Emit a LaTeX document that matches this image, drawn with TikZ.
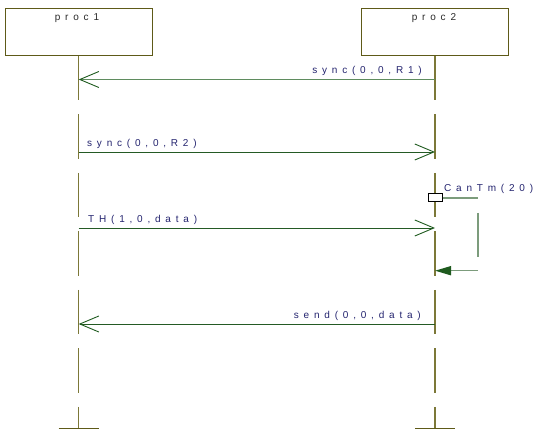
\documentclass[tikz,border=0pt]{standalone}
\usepackage{fontspec}
\setmainfont{Liberation Sans}
\newfontfamily\lblfont[LetterSpace=48]{Liberation Sans}
\usetikzlibrary{arrows.meta}
\definecolor{boxcol}{HTML}{5E5A18}
\definecolor{lifecol}{HTML}{7C7838}
\definecolor{msgdark}{HTML}{245A24}
\definecolor{msglight}{HTML}{5F8C5F}
\definecolor{timercol}{HTML}{7C9C7C}
\definecolor{headcol}{HTML}{1E5A1E}
\definecolor{txtcol}{HTML}{23236E}
\definecolor{proctxt}{HTML}{2A2A2A}
\tikzset{
  procbox/.style={draw=boxcol, line width=0.9pt, fill=white, minimum width=147pt, minimum height=47pt, inner sep=0pt},
  proclabel/.style={font=\lblfont\fontsize{10}{12}\selectfont, text=proctxt, inner sep=0pt, anchor=base},
  lifeline/.style={draw=lifecol, line width=1.3pt, dash pattern=on 44.5pt off 14pt},
  endbar/.style={draw=boxcol, line width=1.1pt},
  msg/.style={draw=msgdark, line width=0.9pt, -{Straight Barb[length=19pt,width=16pt,line width=0.9pt,color=headcol]}},
  msglt/.style={msg, draw=msglight},
  msglabel/.style={font=\lblfont\fontsize{10}{12}\selectfont, text=txtcol, inner sep=0pt},
  timerline/.style={draw=timercol, line width=1.6pt},
  timerbox/.style={draw=black, line width=1pt, fill=white, minimum width=14pt, minimum height=8pt, inner sep=0pt},
}
\begin{document}
\begin{tikzpicture}[x=1pt,y=-1pt]
\useasboundingbox (0,0) rectangle (539,430);
% boxes
\node[procbox] (p1) at (78.7,32) {};
\node[procbox] (p2) at (435,32) {};
\node[proclabel] (p1l) at (77,20.5) {proc1};
\node[proclabel] (p2l) at (434,20.5) {proc2};
% lifeline ends
\coordinate (e1) at (78.7,428.3);
\coordinate (e2) at (435,428.3);
\draw[lifeline] (p1.south) -- (e1);
\draw[lifeline] (p2.south) -- (e2);
\draw[endbar] ([xshift=-20pt]e1) -- ([xshift=20pt]e1);
\draw[endbar] ([xshift=-20pt]e2) -- ([xshift=20pt]e2);
% message coordinates
\coordinate (a1) at (78.7,79.5);  \coordinate (b1) at (435,79.5);
\coordinate (a2) at (78.7,152);   \coordinate (b2) at (435,152);
\coordinate (a3) at (78.7,228);   \coordinate (b3) at (435,228);
\coordinate (a4) at (78.7,324);   \coordinate (b4) at (435,324);
% messages
\draw[msglt] (b1) -- (a1);
\node[msglabel, anchor=base east] (m1) at (422,73.5) {sync(0,0,R1)};
\draw[msg] (a2) -- (b2);
\node[msglabel, anchor=base west] (m2) at (87,147) {sync(0,0,R2)};
\draw[msg] (a3) -- (b3);
\node[msglabel, anchor=base west] (m3) at (88,222.7) {TH(1,0,data)};
\draw[msg] (b4) -- (a4);
\node[msglabel, anchor=base east] (m4) at (421,318.3) {send(0,0,data)};
% timer
\node[timerbox] (tb) at (435,198) {};
\coordinate (t1) at (478,198);
\coordinate (t2) at (478,213);
\coordinate (t3) at (478,257);
\coordinate (t4) at (478,270.7);
\coordinate (t5) at (435,270.7);
\draw[timerline] (tb.east) -- (t1);
\draw[timerline] (t2) -- (t3);
\draw[timerline, -{Triangle[length=16pt,width=9pt,color=headcol,fill=headcol]}] (t4) -- (t5);
\node[msglabel, anchor=base west] (tl) at (444,191.7) {CanTm(20)};
\end{tikzpicture}
\end{document}
